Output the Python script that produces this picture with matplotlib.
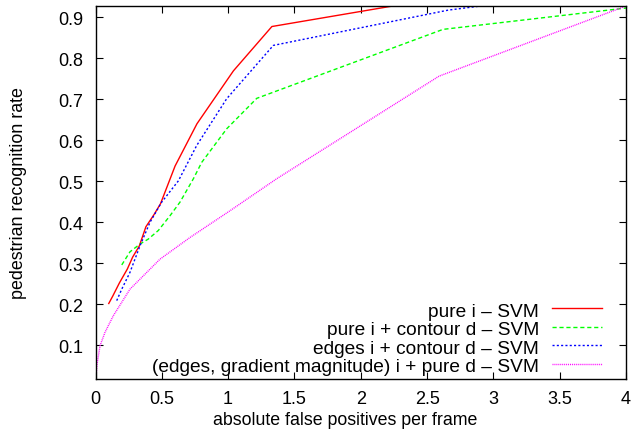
import matplotlib
matplotlib.use("Agg")
import matplotlib.pyplot as plt
from matplotlib.lines import Line2D

plt.rcParams['font.family'] = ['Liberation Sans', 'DejaVu Sans']

labels = [
    "pure i \u2013 SVM",
    "pure i + contour d \u2013 SVM",
    "edges i + contour d \u2013 SVM",
    "(edges, gradient magnitude) i + pure d \u2013 SVM",
]

red_x = [0.10, 0.13, 0.18, 0.24, 0.28, 0.33, 0.38, 0.44, 0.49, 0.60, 0.765, 1.04, 1.33, 2.66, 4.0]
red_y = [0.202, 0.220, 0.252, 0.286, 0.315, 0.342, 0.389, 0.418, 0.445, 0.537, 0.640, 0.769, 0.877, 0.950, 0.975]

green_x = [0.198, 0.26, 0.336, 0.398, 0.474, 0.562, 0.637, 0.738, 0.801, 0.99, 1.216, 2.62, 4.0]
green_y = [0.296, 0.328, 0.347, 0.359, 0.380, 0.416, 0.449, 0.506, 0.546, 0.628, 0.702, 0.870, 0.922]

blue_x = [0.160, 0.198, 0.26, 0.336, 0.411, 0.499, 0.625, 0.763, 0.989, 1.341, 2.66, 4.0]
blue_y = [0.209, 0.237, 0.278, 0.343, 0.400, 0.449, 0.501, 0.587, 0.701, 0.831, 0.917, 0.972]

mag_x = [0.0, 0.01, 0.034, 0.072, 0.134, 0.26, 0.486, 0.713, 1.014, 1.366, 2.59, 4.0]
mag_y = [0.0, 0.05, 0.099, 0.132, 0.172, 0.237, 0.310, 0.363, 0.428, 0.506, 0.756, 0.927]

xticks = [0, 0.5, 1, 1.5, 2, 2.5, 3, 3.5, 4]
xtick_labels = ["0", "0.5", "1", "1.5", "2", "2.5", "3", "3.5", "4"]
yticks = [0.1, 0.2, 0.3, 0.4, 0.5, 0.6, 0.7, 0.8, 0.9]
ytick_labels = ["0.1", "0.2", "0.3", "0.4", "0.5", "0.6", "0.7", "0.8", "0.9"]

colors = ['#ff0000', '#00ff00', '#0000ff', '#ff00ff']
styles = ['-', (0, (3, 2)), (0, (1.5, 1.6)), (0, (0.7, 0.7))]

W, H = 631, 439
fig = plt.figure(figsize=(W / 100, H / 100), dpi=100)
ax = fig.add_axes([95.5 / W, 1 - 380 / H, (626 - 95.5) / W, (380 - 7) / H])

series = [(red_x, red_y), (green_x, green_y), (blue_x, blue_y), (mag_x, mag_y)]
for (xs, ys), c, ls in zip(series, colors, styles):
    ax.plot(xs, ys, color=c, lw=1.0, ls=ls)

ax.set_xlim(0, 4)
ax.set_ylim(0.018, 0.927)
ax.set_xticks(xticks)
ax.set_xticklabels(xtick_labels)
ax.set_yticks(yticks)
ax.set_yticklabels(ytick_labels)
ax.tick_params(direction='in', top=True, right=True, length=5, width=0.8, labelsize=13)
ax.tick_params(axis='x', pad=8)
ax.tick_params(axis='y', pad=9)
for s in ax.spines.values():
    s.set_linewidth(1.0)

ax.set_xlabel("absolute false positives per frame", fontsize=12.8)
ax.xaxis.set_label_coords(0.470, -0.085, transform=ax.transAxes)
ax.xaxis.label.set_va('top')
ax.set_ylabel("pedestrian recognition rate", fontsize=12.9)
ax.yaxis.set_label_coords(-0.145, 0.5, transform=ax.transAxes)
ax.yaxis.label.set_va('center')

# key (gnuplot-style: right-aligned text, sample on the right)
baselines = [317, 335.5, 354, 372.5]
for lab, c, ls, b in zip(labels, colors, styles, baselines):
    fig.text(539 / W, 1 - b / H, lab, ha='right', va='baseline', fontsize=13.8)
    ly = 1 - (b - 8) / H
    fig.add_artist(Line2D([552 / W, 602 / W], [ly, ly], color=c, lw=1.0, ls=ls,
                          transform=fig.transFigure))

fig.savefig("out.png", dpi=100)
